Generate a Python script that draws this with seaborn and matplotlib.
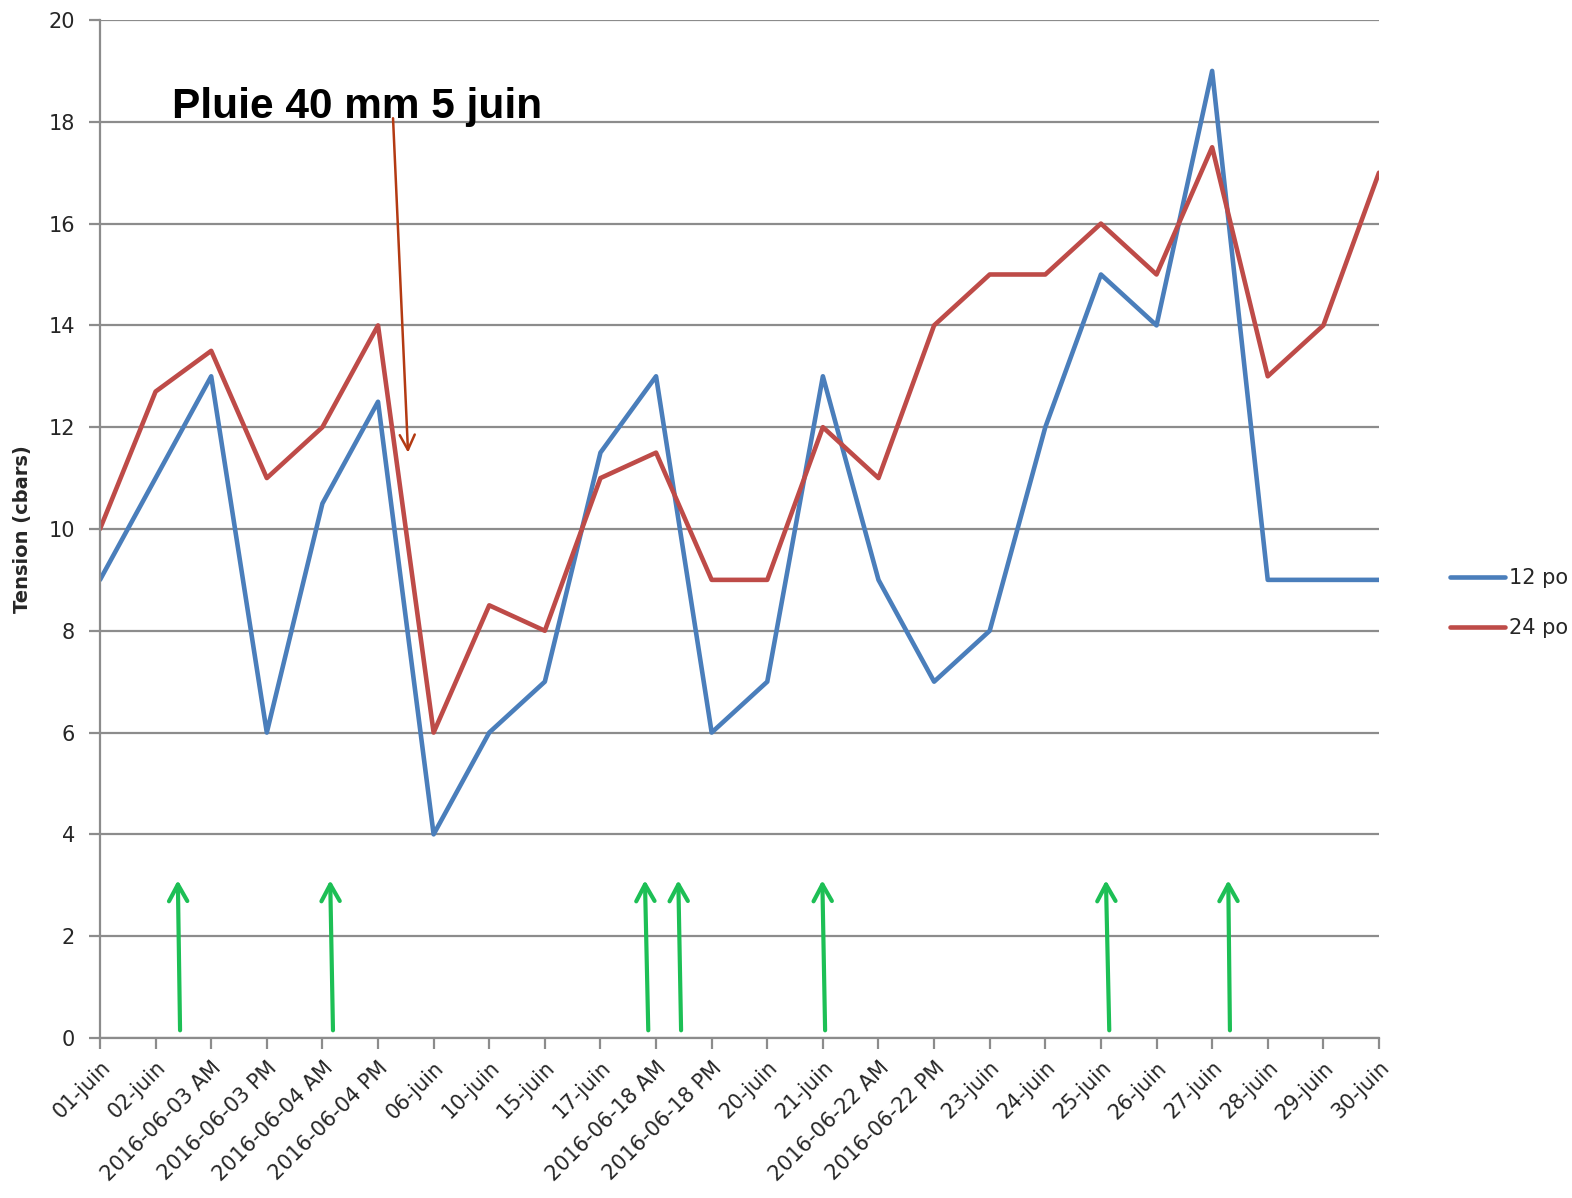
import numpy as np
import pandas as pd
import matplotlib
matplotlib.use("Agg")
import matplotlib.pyplot as plt
import seaborn as sns

# ===============================
# Data
# ===============================
dates = ["01-juin", "02-juin", "2016-06-03 AM", "2016-06-03 PM", "2016-06-04 AM",
         "2016-06-04 PM", "06-juin", "10-juin", "15-juin", "17-juin",
         "2016-06-18 AM", "2016-06-18 PM", "20-juin", "21-juin", "2016-06-22 AM",
         "2016-06-22 PM", "23-juin", "24-juin", "25-juin", "26-juin", "27-juin",
         "28-juin", "29-juin", "30-juin"]
tension_12po = [9, 11, 13, 6, 10.5, 12.5, 4, 6, 7, 11.5, 13, 6, 7, 13, 9, 7, 8, 12,
                15, 14, 19, 9, 9, 9]
tension_24po = [10, 12.7, 13.5, 11, 12, 14, 6, 8.5, 8, 11, 11.5, 9, 9, 12, 11, 14,
                15, 15, 16, 15, 17.5, 13, 14, 17]
series_names = ["12 po", "24 po"]

# irrigation arrows (green), position along the category axis
irrig_x_base = [1.44, 4.19, 9.86, 10.45, 13.04, 18.15, 20.32]
irrig_x_top = [1.40, 4.14, 9.80, 10.40, 12.99, 18.09, 20.29]

rain_label = "Pluie 40 mm 5 juin"

idx = np.arange(len(dates))
df = pd.DataFrame({
    "pos": np.concatenate([idx, idx]),
    "tension": tension_12po + tension_24po,
    "serie": [series_names[0]] * len(dates) + [series_names[1]] * len(dates),
})

# ===============================
# Plot
# ===============================
sns.set_theme(style="white")
plt.rcParams["font.family"] = ["DejaVu Sans"]

fig = plt.figure(figsize=(15.72, 11.98), dpi=100)
ax = fig.add_axes([0.0636, 0.1336, 0.8136, 0.8497])

sns.lineplot(data=df, x="pos", y="tension", hue="serie", sort=False,
             palette=["#4A7EBB", "#BE4B48"], linewidth=3.3, ax=ax, legend=False)

ax.set_xlim(0, len(dates) - 1)
ax.set_ylim(0, 20)
ax.set_yticks(np.arange(0, 21, 2))
ax.set_xticks(idx)
ax.set_xticklabels(dates, rotation=45, ha="right", rotation_mode="anchor")
ax.set_xlabel("")
ax.set_ylabel("Tension (cbars)", fontsize=14, fontweight="bold", labelpad=12)

grey = "#8c8c8c"
ax.yaxis.grid(True, color=grey, linewidth=1.6)
ax.xaxis.grid(False)
ax.set_axisbelow(True)
for side in ["top", "right"]:
    ax.spines[side].set_visible(False)
for side in ["left", "bottom"]:
    ax.spines[side].set_color(grey)
    ax.spines[side].set_linewidth(1.6)
ax.tick_params(axis="both", direction="out", length=8, width=1.6, color=grey,
               labelsize=15, labelcolor="#262626", bottom=True, left=True)
ax.tick_params(axis="x", pad=6)
ax.tick_params(axis="y", pad=10)

# green arrows
for xb, xt in zip(irrig_x_base, irrig_x_top):
    ax.annotate("", xy=(xt, 3.1), xytext=(xb, 0.15),
                arrowprops=dict(arrowstyle="->,head_length=1.0,head_width=0.55",
                                color="#1DBF55", lw=3, shrinkA=0, shrinkB=0))

# rain annotation
ax.text(1.29, 18.3, rain_label, fontsize=30.5, fontweight="bold",
        family=["Liberation Sans", "DejaVu Sans"], va="center", ha="left", color="black")
ax.annotate("", xy=(5.54, 11.5), xytext=(5.27, 18.07),
            arrowprops=dict(arrowstyle="->,head_length=0.9,head_width=0.45",
                            color="#B33A12", lw=1.8, shrinkA=0, shrinkB=0))

# legend outside on the right
handles = ax.get_lines()[:2]
fig.legend(handles, series_names, loc="center left",
           bbox_to_anchor=(1440 / 1572, 1 - 603 / 1198), frameon=False,
           fontsize=15, handlelength=2.6, handletextpad=0.2, labelspacing=1.45,
           borderpad=0)

fig.savefig("out.png", dpi=100)
